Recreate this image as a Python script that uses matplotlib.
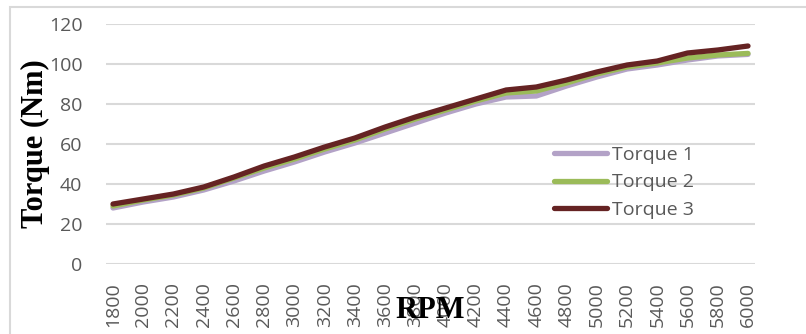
import matplotlib
matplotlib.use("Agg")
import matplotlib.pyplot as plt
from matplotlib.patches import Rectangle

# Engine speed (RPM) categories and measured torque for three runs (Nm)
rpm = ["1800", "2000", "2200", "2400", "2600", "2800", "3000", "3200", "3400", "3600", "3800",
       "4000", "4200", "4400", "4600", "4800", "5000", "5200", "5400", "5600", "5800", "6000"]
torque_1 = [28, 31, 33.5, 37, 41.5, 46.5, 51, 56, 60.5, 65.5, 70.5,
            75.5, 80, 83.5, 84, 89, 93.5, 97.5, 99.5, 102, 104, 104.8]
torque_2 = [29, 32, 34.5, 38, 43, 48, 52.5, 57.5, 62, 67.5, 72.5,
            77, 81.5, 85.5, 86.5, 90.5, 95, 98.5, 100.5, 103, 104.5, 105.3]
torque_3 = [30, 32.5, 35, 38.5, 43.5, 49, 53.5, 58.5, 63, 68.5, 73.5,
            78, 82.5, 87, 88.5, 92, 96, 99.5, 101.5, 105.5, 107, 109]
series_names = ["Torque 1", "Torque 2", "Torque 3"]
y_ticks = [0, 20, 40, 60, 80, 100, 120]

W, H = 806, 334
fig = plt.figure(figsize=(W / 100, H / 100), dpi=100)
fig.patch.set_facecolor("white")

# light chart-area frame
fig.patches.append(Rectangle((10 / W, -0.1), 1.2, 1 - 7 / H + 0.1, transform=fig.transFigure,
                             fill=False, edgecolor="#d9d9d9", linewidth=1.5, zorder=0))

left, right, top, bottom = 106, 755, 24, 264
ax = fig.add_axes([left / W, 1 - bottom / H, (right - left) / W, (bottom - top) / H])

x = list(range(len(rpm)))
colors = ["#b3a2c7", "#9bbb59", "#652323"]
lines = []
for vals, c, name in zip([torque_1, torque_2, torque_3], colors, series_names):
    ln, = ax.plot(x, vals, color=c, linewidth=3.8, solid_capstyle="round",
                  solid_joinstyle="round", label=name)
    lines.append(ln)

step = (748 - 113) / (len(rpm) - 1)
ax.set_xlim(-(113 - left) / step, len(rpm) - 1 + (right - 748) / step)
ax.set_ylim(0, 120)
ax.set_yticks(y_ticks)
ax.set_xticks(x)
ax.set_xticklabels(rpm, rotation=90, va="top", ha="center")

tick_font = {"family": "Open Sans", "size": 14}
for lab in ax.get_xticklabels() + ax.get_yticklabels():
    lab.set_fontfamily(tick_font["family"])
    lab.set_fontsize(tick_font["size"])
    lab.set_color("#595959")

ax.tick_params(axis="both", length=0)
ax.tick_params(axis="y", pad=17)
ax.tick_params(axis="x", pad=13)
for s in ax.spines.values():
    s.set_visible(False)
ax.yaxis.grid(True, color="#d9d9d9", linewidth=1.5)
ax.set_axisbelow(True)

fig.text(35 / W, 1 - 144 / H, "Torque (Nm)", rotation=90, ha="center", va="center",
         fontfamily="Liberation Serif", fontweight="bold", fontsize=22, color="black")
fig.text(430 / W, 1 - 310 / H, "RPM", ha="center", va="center",
         fontfamily="Liberation Serif", fontweight="bold", fontsize=22, color="black")

leg = ax.legend(handles=lines, loc="upper left",
                bbox_to_anchor=(554 / W, 1 - 146 / H), bbox_transform=fig.transFigure,
                frameon=False, handlelength=2.7, handletextpad=0.3, labelspacing=0.48,
                borderaxespad=0, borderpad=0,
                prop={"family": "Open Sans", "size": 14})
for t in leg.get_texts():
    t.set_color("#595959")

fig.savefig("out.png", dpi=100)
